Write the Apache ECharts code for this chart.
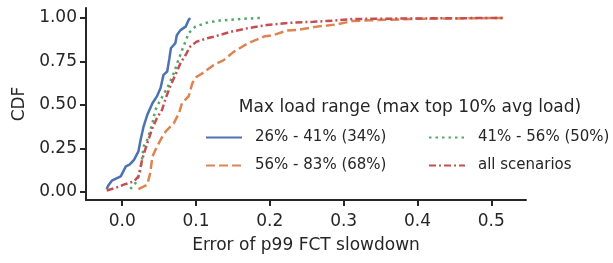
<!DOCTYPE html>
<html>
<head>
<meta charset="utf-8">
<script src="https://cdn.jsdelivr.net/npm/echarts@6/dist/echarts.min.js"></script>
<style>
  html, body { margin: 0; padding: 0; background: #fff; }
  #chart { width: 613px; height: 263px; }
</style>
</head>
<body>
<div id="chart"></div>
<script>
// legend names
const names = ["26% - 41% (34%)", "56% - 83% (68%)", "41% - 56% (50%)", "all scenarios"];
const xTicks = [0, 0.1, 0.2, 0.3, 0.4, 0.5];
const yTicks = [0, 0.25, 0.5, 0.75, 1];

// CDF curves (x = error, y = CDF)
const blueX = [-0.021, -0.019, -0.014, -0.002, 0.005, 0.010, 0.016, 0.022, 0.025, 0.029, 0.034, 0.041, 0.047, 0.052, 0.056, 0.061, 0.064, 0.066, 0.072, 0.074, 0.079, 0.086, 0.090, 0.092];
const blueY = [0.017, 0.036, 0.065, 0.09, 0.147, 0.157, 0.185, 0.233, 0.30, 0.376, 0.443, 0.51, 0.549, 0.597, 0.673, 0.692, 0.769, 0.826, 0.855, 0.90, 0.93, 0.95, 0.988, 1.0];

const orangeX = [0.022, 0.034, 0.038, 0.041, 0.045, 0.052, 0.059, 0.070, 0.077, 0.081, 0.090, 0.095, 0.101, 0.108, 0.124, 0.137, 0.151, 0.169, 0.192, 0.205, 0.223, 0.237, 0.264, 0.291, 0.313, 0.40, 0.516];
const orangeY = [0.017, 0.042, 0.109, 0.204, 0.241, 0.30, 0.348, 0.396, 0.453, 0.51, 0.549, 0.625, 0.662, 0.68, 0.73, 0.756, 0.805, 0.851, 0.893, 0.902, 0.927, 0.931, 0.95, 0.963, 0.983, 0.995, 1.0];

const greenX = [0.011, 0.020, 0.025, 0.029, 0.034, 0.041, 0.045, 0.052, 0.061, 0.070, 0.077, 0.083, 0.090, 0.099, 0.115, 0.133, 0.160, 0.187];
const greenY = [0.017, 0.061, 0.128, 0.261, 0.30, 0.396, 0.472, 0.53, 0.597, 0.683, 0.769, 0.835, 0.912, 0.95, 0.973, 0.985, 0.994, 1.0];

const redX = [-0.021, -0.009, 0.002, 0.016, 0.022, 0.027, 0.034, 0.041, 0.047, 0.054, 0.059, 0.065, 0.072, 0.079, 0.086, 0.092, 0.101, 0.115, 0.124, 0.147, 0.169, 0.196, 0.228, 0.259, 0.286, 0.313, 0.40, 0.516];
const redY = [0.009, 0.023, 0.042, 0.061, 0.09, 0.185, 0.281, 0.367, 0.424, 0.472, 0.539, 0.606, 0.673, 0.74, 0.787, 0.835, 0.864, 0.883, 0.892, 0.92, 0.94, 0.959, 0.972, 0.978, 0.984, 0.994, 0.997, 1.0];

const pairs = (xs, ys) => xs.map((x, i) => [x, ys[i]]);

const font = "DejaVu Sans";
const ink = "#262626";

let myChart = echarts.init(document.getElementById("chart"), null, { renderer: "canvas" });

const makeLine = (name, color, xs, ys, type) => ({
  name: name,
  type: "line",
  data: pairs(xs, ys),
  showSymbol: false,
  symbol: "none",
  animation: false,
  lineStyle: { color: color, width: 2.5, type: type, cap: "butt" },
  itemStyle: { color: color },
});

const legendBase = {
  orient: "vertical",
  itemWidth: 36,
  itemHeight: 14,
  itemGap: 13,
  itemStyle: { opacity: 0 },
  textStyle: { fontFamily: font, fontSize: 15, color: ink, padding: [0, 0, 0, 8] },
  selectedMode: false,
};

const option = {
  animation: false,
  title: {
    text: "Max load range (max top 10% avg load)",
    left: 405,
    top: 94,
    textAlign: "center",
    textStyle: { fontFamily: font, fontSize: 17, fontWeight: "normal", color: ink },
  },
  legend: [
    Object.assign({}, legendBase, { data: [names[0], names[1]], left: 200, top: 125 }),
    Object.assign({}, legendBase, { data: [names[2], names[3]], left: 423, top: 125 }),
  ],
  grid: { left: 86, right: 87, top: 8, bottom: 63, containLabel: false },
  xAxis: {
    type: "value",
    min: -0.049,
    max: 0.547,
    name: "Error of p99 FCT slowdown",
    nameLocation: "middle",
    nameGap: 37,
    nameTextStyle: { fontFamily: font, fontSize: 17, color: ink },
    axisLine: { show: true, onZero: false, lineStyle: { color: ink, width: 2 } },
    axisTick: { show: true, length: 6, lineStyle: { color: ink, width: 2 }, customValues: xTicks },
    axisLabel: {
      fontFamily: font, fontSize: 17, color: ink, margin: 13,
      customValues: xTicks,
      formatter: (v) => v.toFixed(1),
    },
    splitLine: { show: false },
  },
  yAxis: {
    type: "value",
    min: -0.046,
    max: 1.057,
    name: "CDF",
    nameLocation: "middle",
    nameGap: 56,
    nameTextStyle: { fontFamily: font, fontSize: 17, color: ink },
    axisLine: { show: true, onZero: false, lineStyle: { color: ink, width: 2 } },
    axisTick: { show: true, length: 6, lineStyle: { color: ink, width: 2 }, customValues: yTicks },
    axisLabel: {
      fontFamily: font, fontSize: 17, color: ink, margin: 9,
      customValues: yTicks,
      formatter: (v) => v.toFixed(2),
    },
    splitLine: { show: false },
  },
  series: [
    makeLine(names[0], "#4C72B0", blueX, blueY, "solid"),
    makeLine(names[1], "#DD8452", orangeX, orangeY, [9, 4]),
    makeLine(names[2], "#55A868", greenX, greenY, [2.5, 4]),
    makeLine(names[3], "#C44E52", redX, redY, [7, 3, 2, 3]),
  ],
};

myChart.setOption(option);
</script>
</body>
</html>
